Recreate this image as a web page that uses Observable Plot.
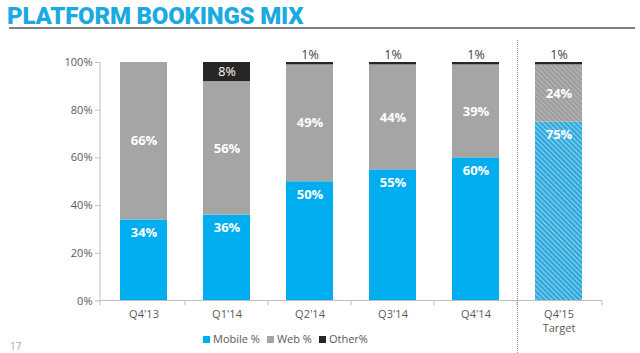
<!DOCTYPE html>
<html><head><meta charset="utf-8">
<script src="https://cdn.jsdelivr.net/npm/d3@7"></script>
<script src="https://cdn.jsdelivr.net/npm/@observablehq/plot@0.6"></script>
<style>
body{margin:0;background:#fff;width:640px;height:353px;overflow:hidden;position:relative;font-family:"Open Sans",sans-serif}
#title{position:absolute;left:7px;top:1px;font-family:Roboto,sans-serif;font-weight:900;font-size:24px;letter-spacing:-0.2px;line-height:30px;color:#1AA9E1;white-space:nowrap}
#rule{position:absolute;left:9px;top:27px;width:626px;height:2px;background:#808080}
#chart{position:absolute;left:0;top:36px}
#legend{position:absolute;left:203px;top:332px;font-size:11px;color:#595959;display:flex;gap:7px;align-items:center;line-height:14px}
#legend span.sw{display:inline-block;width:7px;height:7px;margin-right:3px;vertical-align:0px}
#page{position:absolute;left:10px;top:339px;font-size:10px;color:#a6a6a6}
#chart svg g[aria-label="y-axis tick"] path, #chart svg .tick line{stroke:#bfbfbf}
</style>
</head><body>
<div id="title">PLATFORM BOOKINGS MIX</div>
<div id="rule"></div>
<div id="chart"></div>
<div id="legend"></div>
<div id="page">17</div>
<script>
const quarters = ["Q4'13","Q1'14","Q2'14","Q3'14","Q4'14","Q4'15"];
const tickLabels = ["Q4'13","Q1'14","Q2'14","Q3'14","Q4'14","Q4'15"];
const tickSubLabels = ["","","","","","Target"];
const isTarget = [false,false,false,false,false,true];
const mobile = [34,36,50,55,60,75];
const web = [66,56,49,44,39,24];
const other = [0,8,1,1,1,1];
const yTicks = [0,20,40,60,80,100];
const seriesNames = ["Mobile %","Web %","Other%"];
const seriesColors = ["#00AEEF","#A5A5A5","#262626"];
const hatchFills = ["url(#hatchMobile)","url(#hatchWeb)","#262626"];

const seriesValues = [mobile, web, other];
const rows = [];
quarters.forEach((q, i) => {
  let base = 0;
  seriesValues.forEach((vals, s) => {
    const v = vals[i];
    rows.push({q, s, value: v, y1: base, y2: base + v, target: isTarget[i]});
    base += v;
  });
});
const fillOf = d => d.target ? hatchFills[d.s] : seriesColors[d.s];
const mobileRows = rows.filter(d => d.s === 0);
const webRows = rows.filter(d => d.s === 1);
const otherRows = rows.filter(d => d.s === 2 && d.value > 0);

const paddingInner = 0.43;
function decor(index, scales, values, dimensions) {
  const x = scales.x, y = scales.y;
  const x0 = x(quarters[0]), x1 = x(quarters[1]);
  const step = x1 - x0;
  let bw = typeof x.bandwidth === "function" ? x.bandwidth() : x.bandwidth;
  if (bw == null || isNaN(bw)) bw = step * (1 - paddingInner);
  const g = d3.create("svg:g");
  const left = dimensions.marginLeft, right = dimensions.width - dimensions.marginRight;
  const yb = y(0), yt = y(100);
  g.append("line").attr("x1", left).attr("x2", right).attr("y1", yb).attr("y2", yb)
    .attr("stroke", "#bfbfbf");
  g.append("line").attr("x1", left).attr("x2", left).attr("y1", yb).attr("y2", yt)
    .attr("stroke", "#bfbfbf");
  const bounds = [left];
  for (let i = 0; i < quarters.length - 1; i++) {
    bounds.push((x(quarters[i]) + bw + x(quarters[i + 1])) / 2);
  }
  bounds.push(right);
  bounds.forEach(bx => g.append("line").attr("x1", bx).attr("x2", bx).attr("y1", yb).attr("y2", yb + 5).attr("stroke", "#bfbfbf"));
  const ti = isTarget.indexOf(true);
  const sx = Math.round((x(quarters[ti - 1]) + bw + x(quarters[ti])) / 2) + 0.5;
  g.append("line").attr("x1", sx).attr("x2", sx).attr("y1", 4).attr("y2", dimensions.height)
    .attr("stroke", "#8c8c8c").attr("stroke-dasharray", "1,1");
  return g.node();
}

const chart = Plot.plot({
  width: 640,
  height: 317,
  marginLeft: 100,
  marginRight: 38,
  marginTop: 26,
  marginBottom: 52.5,
  style: {fontFamily: "'Open Sans', sans-serif", fontSize: "11px", color: "#595959", background: "transparent", overflow: "visible"},
  x: {domain: quarters, paddingInner: paddingInner, paddingOuter: paddingInner / 2, axis: null},
  y: {domain: [0, 100], ticks: yTicks, tickFormat: d => d + "%", label: null, tickSize: 5, tickPadding: 3},
  color: {type: "identity"},
  marks: [
    Plot.barY(rows, {x: "q", y1: "y1", y2: "y2", fill: fillOf}),
    Plot.text(mobileRows, {x: "q", y: "y2", dy: 13, text: d => d.value + "%", fill: "white", fontWeight: "bold", fontSize: 13}),
    Plot.text(webRows, {x: "q", y: d => (d.y1 + d.y2) / 2, text: d => d.value + "%", fill: "white", fontWeight: "bold", fontSize: 13}),
    Plot.text(otherRows.filter(d => d.value >= 5), {x: "q", y: d => (d.y1 + d.y2) / 2, text: d => d.value + "%", fill: "white", fontSize: 12.5}),
    Plot.text(otherRows.filter(d => d.value < 5), {x: "q", y: "y2", dy: -8, text: d => d.value + "%", fill: "#404040", fontSize: 12.5}),
    Plot.text(quarters, {x: d => d, y: 0, dy: 13, text: (d, i) => tickLabels[i], fill: "#595959", fontSize: 11}),
    Plot.text(quarters, {x: d => d, y: 0, dy: 27, text: (d, i) => tickSubLabels[i], fill: "#595959", fontSize: 11}),
    decor
  ]
});

const defs = d3.select(chart).insert("defs", ":first-child");
function hatch(id, base, stripe) {
  const p = defs.append("pattern").attr("id", id).attr("patternUnits", "userSpaceOnUse")
    .attr("width", 3.5).attr("height", 3.5).attr("patternTransform", "rotate(-45)");
  p.append("rect").attr("width", 3.5).attr("height", 3.5).attr("fill", base);
  p.append("rect").attr("x", 0).attr("y", 0).attr("width", 1.3).attr("height", 3.5).attr("fill", stripe);
}
hatch("hatchMobile", "#2AA6DA", "#86CFEE");
hatch("hatchWeb", "#9C9C9C", "#B6B6B6");

document.getElementById("chart").appendChild(chart);

const legend = d3.select("#legend");
seriesNames.forEach((n, i) => {
  const it = legend.append("div");
  it.append("span").attr("class", "sw").style("background", seriesColors[i]);
  it.append("span").text(n);
});
</script>
</body></html>
